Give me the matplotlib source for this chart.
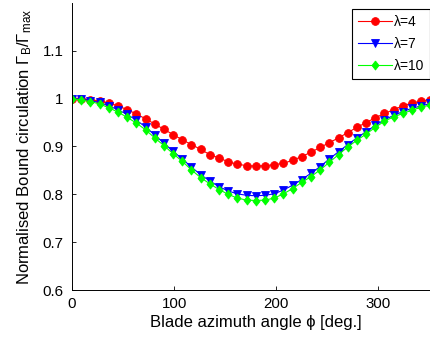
import matplotlib
matplotlib.use("Agg")
import matplotlib.pyplot as plt

plt.rcParams["font.family"] = ["Liberation Sans", "DejaVu Sans"]
plt.rcParams["mathtext.fontset"] = "custom"
plt.rcParams["mathtext.rm"] = "Liberation Sans"
plt.rcParams["mathtext.it"] = "Liberation Sans"

# ---------------------------------------------------------------------------
# Data (blade azimuth every 9 deg)
# ---------------------------------------------------------------------------
phi = [0, 9, 18, 27, 36, 45, 54, 63, 72, 81, 90, 99, 108, 117, 126, 135, 144,
       153, 162, 171, 180, 189, 198, 207, 216, 225, 234, 243, 252, 261, 270,
       279, 288, 297, 306, 315, 324, 333, 342, 351, 360]

gamma_l4 = [1.000, 0.999, 0.998, 0.995, 0.991, 0.985, 0.977, 0.968, 0.958,
            0.947, 0.936, 0.925, 0.914, 0.904, 0.894, 0.883, 0.876, 0.868,
            0.863, 0.860, 0.859, 0.860, 0.862, 0.865, 0.871, 0.879, 0.888,
            0.898, 0.908, 0.918, 0.929, 0.940, 0.950, 0.960, 0.969, 0.977,
            0.985, 0.991, 0.995, 0.998, 1.000]

gamma_l7 = [1.000, 0.999, 0.996, 0.992, 0.985, 0.977, 0.967, 0.955, 0.941,
            0.924, 0.907, 0.890, 0.874, 0.857, 0.841, 0.828, 0.816, 0.807,
            0.801, 0.798, 0.797, 0.798, 0.801, 0.809, 0.819, 0.831, 0.844,
            0.858, 0.874, 0.889, 0.904, 0.918, 0.931, 0.944, 0.956, 0.965,
            0.973, 0.980, 0.985, 0.990, 0.994]

gamma_l10 = [1.000, 0.997, 0.994, 0.989, 0.981, 0.972, 0.961, 0.949, 0.935,
             0.918, 0.902, 0.885, 0.869, 0.851, 0.835, 0.822, 0.810, 0.800,
             0.792, 0.788, 0.787, 0.788, 0.792, 0.801, 0.812, 0.825, 0.837,
             0.851, 0.867, 0.883, 0.899, 0.913, 0.926, 0.940, 0.953, 0.962,
             0.969, 0.976, 0.982, 0.987, 0.991]

# MATLAB-like diamond: a bit wider than matplotlib's thin 'd'
diamond = [(0, 1), (0.78, 0), (0, -1), (-0.78, 0), (0, 1)]

series = [
    ("\u03bb=4", gamma_l4, "o", (1, 0, 0), 5.6),
    ("\u03bb=7", gamma_l7, "v", (0, 0, 1), 5.6),
    ("\u03bb=10", gamma_l10, diamond, (0, 1, 0), 6.5),
]

yticks = [0.6, 0.7, 0.8, 0.9, 1.0, 1.1]
ytick_labels = ["0.6", "0.7", "0.8", "0.9", "1", "1.1"]
xticks = [0, 100, 200, 300]

# ---------------------------------------------------------------------------
# Figure (the reference is cropped on the top and right)
# ---------------------------------------------------------------------------
W, H = 431, 337
fig = plt.figure(figsize=(W / 100, H / 100), dpi=100)
ax = fig.add_axes([72 / W, 1 - 290 / H, 367.6 / W, 287 / H])

for label, vals, mk, col, ms in series:
    ax.plot(phi, vals, "-", color=col, marker=mk, markersize=ms,
            markerfacecolor=col, markeredgecolor=col, markeredgewidth=0.6,
            linewidth=0.8, label=label)

ax.set_xlim(0, 360)
ax.set_ylim(0.6, 1.2)
ax.set_xticks(xticks)
ax.set_yticks(yticks)
ax.set_yticklabels(ytick_labels)
ax.tick_params(direction="in", length=3, width=0.6, labelsize=10.8)
ax.tick_params(axis="y", pad=6)
ax.tick_params(axis="x", pad=5)
ax.spines["top"].set_visible(False)
ax.spines["right"].set_visible(False)
for s in ("left", "bottom"):
    ax.spines[s].set_linewidth(0.7)

ax.set_xlabel("Blade azimuth angle \u03d5 [deg.]", fontsize=12, labelpad=3)
ax.set_ylabel(r"Normalised Bound circulation $\Gamma_{\rm B}/\Gamma_{\rm max}$",
              fontsize=12, labelpad=6)

leg = ax.legend(loc="upper right", bbox_to_anchor=(430.5 / W, 1 - 9 / H),
                bbox_transform=fig.transFigure, borderaxespad=0,
                fontsize=10, handlelength=2.45, handletextpad=0.15,
                borderpad=0.45, labelspacing=0.55, fancybox=False,
                framealpha=1, edgecolor="black")
leg.get_frame().set_linewidth(0.8)

fig.savefig("out.png", dpi=100)
